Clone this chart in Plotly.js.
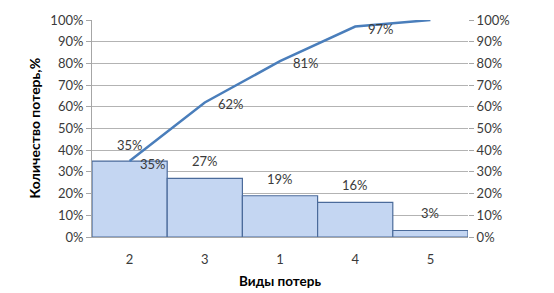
<!DOCTYPE html>
<html>
<head>
<meta charset="utf-8">
<script src="https://cdn.plot.ly/plotly-3.0.1.min.js"></script>
<style>
html,body{margin:0;padding:0;background:#fff;}
#chart{width:554px;height:293px;}
</style>
</head>
<body>
<div id="chart"></div>
<script>
// Data
const categories = ['2', '3', '1', '4', '5'];
const lossShare = [0.35, 0.27, 0.19, 0.16, 0.03];
const cumulativeShare = [0.35, 0.62, 0.81, 0.97, 1.00];
const lineLabels = ['35%', '62%', '81%', '97%', ''];
const tickVals = [0, 0.1, 0.2, 0.3, 0.4, 0.5, 0.6, 0.7, 0.8, 0.9, 1.0];
const xTitle = 'Виды потерь';
const yTitle = 'Количество потерь,%';

const FONT = 'Lato, "Open Sans", sans-serif';
const TXT = '#3a3a3a';

const bars = {
  type: 'bar',
  x: categories,
  y: lossShare,
  width: 1,
  marker: {color: '#c4d6f2', line: {color: '#4b6b9b', width: 1.2}},
  hoverinfo: 'skip',
  yaxis: 'y'
};

const line = {
  type: 'scatter',
  mode: 'lines',
  x: categories,
  y: cumulativeShare,
  line: {color: '#4a7ebb', width: 2.5},
  yaxis: 'y2',
  hoverinfo: 'skip'
};

const barAnn = categories.map((c, i) => {
  const first = i === 0;
  return {
    x: i, y: lossShare[i], xref: 'x', yref: 'y',
    text: Math.round(lossShare[i] * 100) + '%',
    showarrow: false,
    xanchor: 'center',
    yanchor: first ? 'middle' : 'bottom',
    xshift: first ? 23 : 0,
    yshift: first ? -3 : 7,
    font: {family: FONT, size: 13, color: TXT}
  };
});

const lineAnn = [];
lineLabels.forEach((t, i) => {
  if (!t) return;
  const first = i === 0;
  lineAnn.push({
    x: i, y: cumulativeShare[i], xref: 'x', yref: 'y2',
    text: t, showarrow: false,
    xanchor: first ? 'center' : 'left',
    yanchor: first ? 'bottom' : 'middle',
    xshift: first ? 0 : 11,
    yshift: first ? 6 : -2,
    font: {family: FONT, size: 13, color: TXT}
  });
});

const titleAnn = [{
  text: yTitle, xref: 'paper', yref: 'paper', x: 0, y: 0.5,
  xshift: -58, xanchor: 'center', yanchor: 'middle', textangle: -90,
  showarrow: false,
  font: {family: FONT, size: 14, color: '#000', weight: 'bold'}
}];

const layout = {
  width: 554, height: 293,
  margin: {l: 92, r: 86, t: 20, b: 56},
  paper_bgcolor: '#fff', plot_bgcolor: '#fff',
  showlegend: false,
  bargap: 0,
  font: {family: FONT, size: 13, color: TXT},
  xaxis: {
    type: 'category',
    range: [-0.5, 4.5],
    showgrid: false,
    showline: true, linecolor: '#a6a6a6', linewidth: 1,
    ticks: '',
    ticklabelstandoff: 10,
    tickfont: {family: FONT, size: 13, color: TXT},
    title: {text: xTitle, font: {family: FONT, size: 13.5, color: '#000', weight: 'bold'}, standoff: 10}
  },
  yaxis: {
    range: [0, 1],
    tickvals: tickVals,
    tickformat: '.0%',
    showgrid: true, gridcolor: '#b3b3b3', gridwidth: 1,
    showline: true, linecolor: '#a6a6a6',
    ticks: 'outside', ticklen: 5, tickcolor: '#a6a6a6',
    zeroline: false,
    tickfont: {family: FONT, size: 13, color: TXT}
  },
  yaxis2: {
    range: [0, 1],
    overlaying: 'y', side: 'right',
    tickvals: tickVals,
    tickformat: '.0%',
    showgrid: false, zeroline: false,
    showline: false,
    ticks: 'outside', ticklen: 5, tickcolor: '#a6a6a6',
    tickfont: {family: FONT, size: 13, color: TXT}
  },
  annotations: barAnn.concat(lineAnn, titleAnn)
};

Plotly.newPlot('chart', [bars, line], layout, {staticPlot: true, displayModeBar: false});
</script>
</body>
</html>
